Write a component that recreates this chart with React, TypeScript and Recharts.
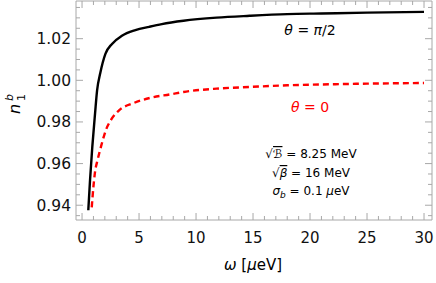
import React from "react";
import { LineChart, Line, XAxis, YAxis } from "recharts";

const blackX = [0.55, 0.7, 0.9, 1.14, 1.32, 1.6, 2.05, 2.63, 3.5, 4.68, 5.9, 7.0, 8.9, 11.8, 14.7, 18, 21, 25, 30];
const blackY = [0.9376, 0.952, 0.968, 0.984, 0.9952, 1.0035, 1.0127, 1.0175, 1.0214, 1.0241, 1.0257, 1.027, 1.0286, 1.0301, 1.031, 1.0318, 1.0321, 1.0325, 1.0329];
const redX = [0.85, 1.0, 1.14, 1.37, 1.67, 2.1, 2.54, 3.27, 4.45, 6.0, 7.8, 8.9, 11.8, 14.7, 18, 21, 25, 30];
const redY = [0.939, 0.949, 0.956, 0.9619, 0.9683, 0.9762, 0.981, 0.9857, 0.9889, 0.9916, 0.9933, 0.9944, 0.996, 0.9968, 0.9976, 0.998, 0.9984, 0.9987];

const xTicks = Array.from({ length: 31 }, (_, i) => i);
const xMajorLabels = [0, 5, 10, 15, 20, 25, 30];
const yTicks = Array.from({ length: 21 }, (_, i) => Math.round((0.935 + i * 0.005) * 1000) / 1000);
const yMajorLabels = [0.94, 0.96, 0.98, 1.0, 1.02];

const blackData = blackX.map((x, i) => ({ x, y: blackY[i] }));
const redData = redX.map((x, i) => ({ x, y: redY[i] }));

const W = 436;
const H = 283;
const AXIS = "#a8a8a8";
const FONT = "'DejaVu Sans', sans-serif";

const isXMajor = (v: number) => xMajorLabels.some((m) => Math.abs(m - v) < 1e-6);
const isYMajor = (v: number) => yMajorLabels.some((m) => Math.abs(m - v) < 1e-6);

const BottomTick = (p: any) => {
  const v = p.payload.value;
  const major = isXMajor(v);
  return (
    <g>
      <line x1={p.x} x2={p.x} y1={p.y} y2={p.y - (major ? 7 : 4)} stroke={AXIS} strokeWidth={1} />
      {major && (
        <text x={p.x} y={p.y + 23} textAnchor="middle" fontSize={15} fontFamily={FONT} fill="#111">
          {v}
        </text>
      )}
    </g>
  );
};
const TopTick = (p: any) => {
  const v = p.payload.value;
  const major = isXMajor(v);
  return <line x1={p.x} x2={p.x} y1={p.y} y2={p.y + (major ? 7 : 4)} stroke={AXIS} strokeWidth={1} />;
};
const LeftTick = (p: any) => {
  const v = p.payload.value;
  const major = isYMajor(v);
  return (
    <g>
      <line x1={p.x} x2={p.x + (major ? 7 : 4)} y1={p.y} y2={p.y} stroke={AXIS} strokeWidth={1} />
      {major && (
        <text x={p.x - 5} y={p.y + 5.5} textAnchor="end" fontSize={15.5} fontFamily={FONT} fill="#111">
          {v.toFixed(2)}
        </text>
      )}
    </g>
  );
};
const RightTick = (p: any) => {
  const v = p.payload.value;
  const major = isYMajor(v);
  return <line x1={p.x} x2={p.x - (major ? 7 : 4)} y1={p.y} y2={p.y} stroke={AXIS} strokeWidth={1} />;
};

export default function App() {
  const xDomain = [-0.53, 30.7];
  const yDomain = [0.9329, 1.0381];
  const common = { tickSize: 0, tickMargin: 0, tickLine: false, axisLine: { stroke: AXIS }, allowDataOverflow: true, interval: 0 as const };
  return (
    <div style={{ position: "fixed", left: 0, top: 0, width: W, height: H, background: "#fff" }}>
      <LineChart width={W} height={H} margin={{ top: 0, right: 3, bottom: 62, left: 75 }}>
        <XAxis xAxisId="b" type="number" dataKey="x" domain={xDomain} ticks={xTicks} height={1} tick={<BottomTick />} {...common} />
        <XAxis xAxisId="t" orientation="top" type="number" dataKey="x" domain={xDomain} ticks={xTicks} height={1} tick={<TopTick />} {...common} />
        <YAxis yAxisId="l" type="number" dataKey="y" domain={yDomain} ticks={yTicks} width={1} tick={<LeftTick />} {...common} />
        <YAxis yAxisId="r" orientation="right" type="number" dataKey="y" domain={yDomain} ticks={yTicks} width={1} tick={<RightTick />} {...common} />
        <Line
          xAxisId="b"
          yAxisId="l"
          data={blackData}
          dataKey="y"
          type="monotone"
          stroke="#000"
          strokeWidth={2.4}
          dot={false}
          isAnimationActive={false}
        />
        <Line
          xAxisId="b"
          yAxisId="l"
          data={redData}
          dataKey="y"
          type="monotone"
          stroke="#ff0000"
          strokeWidth={2.4}
          strokeDasharray="6 4"
          dot={false}
          isAnimationActive={false}
        />
      </LineChart>
      <svg
        width={W}
        height={H}
        style={{ position: "absolute", left: 0, top: 0, pointerEvents: "none" }}
        fontFamily={FONT}
      >
        <text x={310} y={35} textAnchor="middle" fontSize={14} fill="#000">
          <tspan fontStyle="italic">θ</tspan> = <tspan fontStyle="italic">π</tspan>/2
        </text>
        <text x={310} y={112} textAnchor="middle" fontSize={14} fill="#ff0000">
          <tspan fontStyle="italic">θ</tspan> = 0
        </text>
        <text x={311} y={158} textAnchor="middle" fontSize={12} fill="#000">
          √<tspan style={{ textDecoration: "overline" }} fontStyle="italic">ℬ</tspan> = 8.25 MeV
        </text>
        <text x={311} y={177} textAnchor="middle" fontSize={12} fill="#000">
          √<tspan style={{ textDecoration: "overline" }} fontStyle="italic">β</tspan> = 16 MeV
        </text>
        <text x={311} y={195} textAnchor="middle" fontSize={12} fill="#000">
          <tspan fontStyle="italic">σ</tspan>
          <tspan fontStyle="italic" fontSize={9} dy={3}>b</tspan>
          <tspan dy={-3}> = 0.1 </tspan>
          <tspan fontStyle="italic">μ</tspan>eV
        </text>
        <text x={253} y={270} textAnchor="middle" fontSize={15} fill="#000">
          <tspan fontStyle="italic">ω</tspan> [<tspan fontStyle="italic">μ</tspan>eV]
        </text>
        <g transform="translate(20,103) rotate(-90)">
          <text x={-6} y={0} fontSize={16} fontStyle="italic" fill="#000" textAnchor="middle">n</text>
          <text x={2} y={-7} fontSize={11} fontStyle="italic" fill="#000">b</text>
          <text x={2} y={5} fontSize={11} fill="#000">1</text>
        </g>
      </svg>
    </div>
  );
}
